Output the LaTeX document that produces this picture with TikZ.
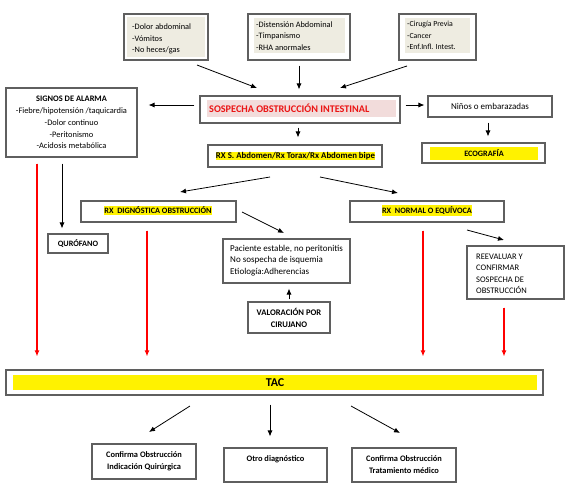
\documentclass[tikz,border=0pt]{standalone}
\usepackage{fontspec}
\setmainfont{Carlito}
\usetikzlibrary{arrows.meta}
\definecolor{bord}{RGB}{95,95,95}
\definecolor{tanf}{RGB}{238,236,225}
\definecolor{pinkf}{RGB}{242,220,219}
\definecolor{redt}{RGB}{235,20,20}
\begin{document}
\begin{tikzpicture}[x=1pt,y=-1pt,
 box/.style={draw=bord, line width=1.1pt, fill=white, inner sep=0pt},
 txt/.style={font=\fontsize{8.5}{11.5}\selectfont, inner sep=0pt},
 btxt/.style={font=\bfseries\fontsize{8.2}{11.5}\selectfont, inner sep=0pt},
 arr/.style={-{Latex[length=6pt,width=5pt]}, line width=0.8pt},
 redarr/.style={-{Latex[length=6pt,width=5pt]}, line width=1.3pt, draw=red, fill=red},
 hl/.style={fill=yellow, inner xsep=1pt, inner ysep=2.5pt},
 fillbox/.style={inner sep=0pt}]
\useasboundingbox (0,0) rectangle (574,488);

% symptom boxes
\node[box, minimum width=84, minimum height=46] (s1) at (166,37) {};
\node[fillbox, fill=tanf, minimum width=78, minimum height=40] (s1f) at (166,37) {};
\node[txt, anchor=west, align=left, font=\fontsize{8.3}{11.8}\selectfont] (s1t) at (132,39) {-Dolor abdominal\\-Vómitos\\-No heces/gas};

\node[box, minimum width=102, minimum height=46] (s2) at (299,37) {};
\node[fillbox, fill=tanf, minimum width=91, minimum height=35] (s2f) at (299.5,35.5) {};
\node[txt, anchor=west, align=left, font=\fontsize{8.3}{11.8}\selectfont] (s2t) at (256,36) {-Distensión Abdominal\\-Timpanismo\\-RHA anormales};

\node[box, minimum width=77, minimum height=46] (s3) at (437.5,37) {};
\node[fillbox, fill=tanf, minimum width=65, minimum height=35] (s3f) at (437.5,35.5) {};
\node[txt, anchor=west, align=left, font=\fontsize{7.8}{11.5}\selectfont] (s3t) at (407,35.5) {-Cirugía Previa\\-Cancer\\-Enf.Infl. Intest.};

% sospecha
\node[box, minimum width=200, minimum height=27] (sos) at (300,109.5) {};
\node[fillbox, fill=pinkf, minimum width=189, minimum height=17] (sosf) at (301.5,108.5) {};
\node[inner sep=0pt, anchor=west, text=redt, font=\bfseries\fontsize{10.2}{12}\selectfont] (sost) at (209,108.5) {SOSPECHA OBSTRUCCIÓN INTESTINAL};

% signos
\node[box, txt, font=\fontsize{8.4}{11.8}\selectfont, minimum width=131, minimum height=69, align=center] (sig) at (71.5,122.5)
 {{\bfseries SIGNOS DE ALARMA}\\-Fiebre/hipotensión /taquicardia\\-Dolor continuo\\-Peritonismo\\-Acidosis metabólica};

% ninos / ecografia
\node[box, txt, font=\fontsize{9}{11}\selectfont, minimum width=124, minimum height=21] (nin) at (490,106.5) {Niños o embarazadas};
\node[box, minimum width=123, minimum height=20] (eco) at (483.5,153) {};
\node[fillbox, fill=yellow, btxt, minimum width=108, minimum height=13] (ecot) at (484,153.5) {ECOGRAFÍA};

% rx
\node[box, minimum width=174, minimum height=22] (rxs) at (295,156) {};
\node[hl, btxt, font=\bfseries\fontsize{8.8}{11}\selectfont] (rxst) at (295.5,156) {RX S. Abdomen/Rx Torax/Rx Abdomen bipe};

\node[box, minimum width=155, minimum height=21] (rxd) at (158.5,211.5) {};
\node[hl, btxt, inner ysep=1.5pt] (rxdt) at (158,210.5) {RX\ \ DIGNÓSTICA OBSTRUCCIÓN};

\node[box, minimum width=154, minimum height=21] (rxn) at (427,211.5) {};
\node[hl, btxt, inner ysep=1.5pt] (rxnt) at (427,210.5) {RX\ \ NORMAL O EQUÍVOCA};

% paciente / valoracion / quirofano / reevaluar
\node[box, minimum width=127, minimum height=44] (pac) at (286.5,261) {};
\node[txt, font=\fontsize{9}{11.5}\selectfont, anchor=west, align=left] (pact) at (230,260.5) {Paciente estable, no peritonitis\\No sospecha de isquemia\\Etiología:Adherencias};

\node[box, btxt, font=\bfseries\fontsize{8.6}{12}\selectfont, minimum width=82, minimum height=31, align=center] (val) at (289,317.5) {VALORACIÓN POR\\CIRUJANO};

\node[box, btxt, minimum width=60, minimum height=19] (qui) at (78,243.5) {QURÓFANO};

\node[box, minimum width=97, minimum height=53] (ree) at (515.5,272.5) {};
\node[txt, anchor=west, align=left] (reet) at (476,274) {REEVALUAR Y\\CONFIRMAR\\SOSPECHA DE\\OBSTRUCCIÓN};

% TAC
\node[box, minimum width=537, minimum height=25] (tac) at (274.5,382.5) {};
\node[fillbox, fill=yellow, minimum width=524, minimum height=15, font=\bfseries\fontsize{12}{13}\selectfont] (tact) at (275,382.5) {TAC};

% bottom boxes
\node[box, btxt, font=\bfseries\fontsize{8.4}{12}\selectfont, minimum width=104, minimum height=35, align=center] (ba) at (144,461.5) {Confirma Obstrucción\\Indicación Quirúrgica};
\node[box, minimum width=103, minimum height=34] (bb) at (275.5,465) {};
\node[btxt, font=\bfseries\fontsize{8.4}{12}\selectfont] (bbt) at (275.5,459.5) {Otro diagnóstico};
\node[box, btxt, font=\bfseries\fontsize{8.4}{12}\selectfont, minimum width=104, minimum height=34, align=center] (bc) at (404,465) {Confirma Obstrucción\\Tratamiento médico};

% connector coordinates
\coordinate (c1a) at (197,65);  \coordinate (c1b) at (257,88);
\coordinate (c3a) at (407,66);  \coordinate (c3b) at (340,88);
\coordinate (yA) at (0,105);
\coordinate (xA) at (298,0);
\coordinate (xR1) at (37,0);
\coordinate (xQ) at (62,0);
\coordinate (xR2) at (147,0);
\coordinate (xR3) at (423,0);
\coordinate (xR4) at (504,0);
\coordinate (xN) at (488,0);
\coordinate (d1a) at (270,177); \coordinate (d1b) at (180,192);
\coordinate (d2a) at (320,177); \coordinate (d2b) at (398,193);
\coordinate (p1a) at (242,212); \coordinate (p1b) at (284,233);
\coordinate (xV) at (289,0);
\coordinate (r1a) at (467,230); \coordinate (r1b) at (504,240);
\coordinate (t1a) at (190,406); \coordinate (t1b) at (149,432);
\coordinate (xT) at (270,0);
\coordinate (t3a) at (351,406); \coordinate (t3b) at (400,433);

% black connectors
\draw[arr] (c1a) -- (c1b);
\draw[arr, shorten <=5pt, shorten >=6pt] (s2.south) -- (s2.south |- sos.north);
\draw[arr] (c3a) -- (c3b);
\draw[arr, shorten <=5pt, shorten >=11pt] (sos.west |- yA) -- (sig.east |- yA);
\draw[arr, shorten <=5pt, shorten >=3pt] (sos.east |- yA) -- (nin.west |- yA);
\draw[arr, shorten <=5pt, shorten >=6pt] (nin.south -| xN) -- (eco.north -| xN);
\draw[arr, shorten <=4pt, shorten >=7pt] (sos.south -| xA) -- (rxs.north -| xA);
\draw[arr] (d1a) -- (d1b);
\draw[arr] (d2a) -- (d2b);
\draw[arr] (p1a) -- (p1b);
\draw[arr, shorten <=2pt, shorten >=5pt] (val.north -| xV) -- (pac.south -| xV);
\draw[arr, shorten <=6pt, shorten >=5pt] (sig.south -| xQ) -- (qui.north -| xQ);
\draw[arr] (r1a) -- (r1b);
\draw[arr] (t1a) -- (t1b);
\draw[arr, shorten <=9pt, shorten >=11pt] (tac.south -| xT) -- (bb.north -| xT);
\draw[arr] (t3a) -- (t3b);

% red connectors
\draw[redarr, shorten <=6pt, shorten >=13pt] (sig.south -| xR1) -- (tac.north -| xR1);
\draw[redarr, shorten <=8pt, shorten >=13pt] (rxd.south -| xR2) -- (tac.north -| xR2);
\draw[redarr, shorten <=8pt, shorten >=13pt] (rxn.south -| xR3) -- (tac.north -| xR3);
\draw[redarr, shorten <=8pt, shorten >=13pt] (ree.south -| xR4) -- (tac.north -| xR4);
\end{tikzpicture}
\end{document}
